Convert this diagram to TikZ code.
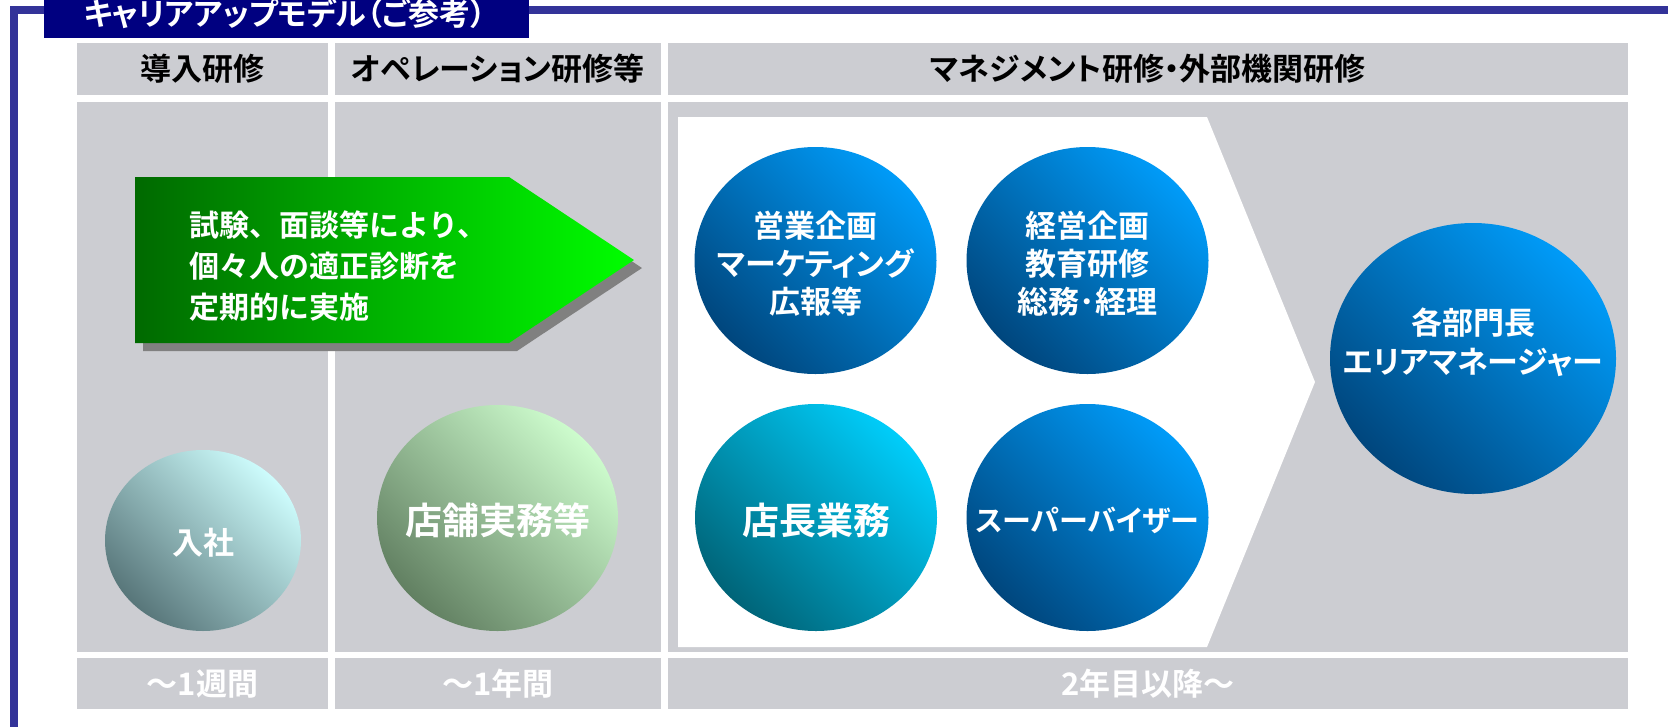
\documentclass[tikz,border=0pt]{standalone}
\usepackage{fontspec}
\setmainfont{Noto Sans CJK JP}[BoldFont={Noto Sans CJK JP Bold},RawFeature=+palt]
\newfontfamily\jpfull{Noto Sans CJK JP}[BoldFont={Noto Sans CJK JP Bold}]
\usetikzlibrary{shapes.geometric}
\definecolor{framecol}{RGB}{51,51,153}
\definecolor{titlecol}{RGB}{0,0,128}
\definecolor{cellgray}{RGB}{204,205,210}
\definecolor{shadowgray}{RGB}{128,128,128}
\definecolor{arrowD}{RGB}{0,105,0}
\definecolor{arrowL}{RGB}{0,255,0}
\definecolor{blueD}{RGB}{0,70,125}
\definecolor{blueL}{RGB}{0,155,248}
\definecolor{cyanD}{RGB}{0,100,120}
\definecolor{cyanL}{RGB}{0,205,250}
\definecolor{tealD}{RGB}{88,118,122}
\definecolor{tealL}{RGB}{205,252,252}
\definecolor{greenD}{RGB}{98,128,98}
\definecolor{greenL}{RGB}{205,252,205}
\newcommand\jfs[2]{\fontsize{#1}{#2}\selectfont}
\begin{document}
\begin{tikzpicture}[x=1pt,y=-1pt,
  hdr/.style={text=black,font=\bfseries\jfs{31}{36}},
  ftr/.style={text=white,font=\bfseries\jfs{31}{36}},
  ball/.style={ellipse,inner sep=0pt,minimum width=242pt,minimum height=227pt},
  ballshade/.style 2 args={left color=#1,right color=#2,shading angle=135},
  balltext/.style={text=white,align=center,font=\bfseries\jfs{31}{38}},
  bigtext/.style={text=white,align=center,font=\bfseries\jfs{37}{42}}]
\useasboundingbox (0,0) rectangle (1668,726);
\fill[white] (0,0) rectangle (1668,726);
% frame
\draw[framecol,line width=7.5pt] (13.75,740) -- (13.75,10) -- (1690,10);
% title
\fill[titlecol] (44,-2) rectangle (529,38);
\node[text=white,font=\bfseries\jfs{31}{34}] (title) at (285,14) {キャリアアップモデル（ご参考）};
% header row
\fill[cellgray] (77,43) rectangle (328,95);
\fill[cellgray] (335,43) rectangle (661,95);
\fill[cellgray] (668,43) rectangle (1628,95);
\node[hdr] (h1) at (202.5,69) {導入研修};
\node[hdr] (h2) at (498,69) {オペレーション研修等};
\node[hdr] (h3) at (1148,69) {マネジメント研修・外部機関研修};
% body row
\fill[cellgray] (77,102) rectangle (328,652);
\fill[cellgray] (335,102) rectangle (661,652);
\fill[cellgray] (668,102) rectangle (1628,652);
% footer row
\fill[cellgray] (77,658) rectangle (328,709);
\fill[cellgray] (335,658) rectangle (661,709);
\fill[cellgray] (668,658) rectangle (1628,709);
\node[ftr] (f1) at (202.5,684) {～1週間};
\node[ftr] (f2) at (498,684) {～1年間};
\node[ftr] (f3) at (1148,684) {2年目以降～};
% white pentagon
\fill[white] (678,117) -- (1207,117) -- (1315,382) -- (1207,647) -- (678,647) -- cycle;
% green arrow
\fill[shadowgray] (143,185) -- (517,185) -- (642,268) -- (517,351) -- (143,351) -- cycle;
\shade[left color=arrowD,right color=arrowL] (135,177) -- (509,177) -- (634,260) -- (509,343) -- (135,343) -- cycle;
\node[anchor=west,align=left,text=white,font=\jpfull\bfseries\jfs{30}{41}] (exam) at (186,266) {試験、面談等により、\\個々人の適正診断を\\定期的に実施};
% circles
\node[ball,ballshade={tealD}{tealL},minimum width=196pt,minimum height=181pt] (nyusha) at (203,540.5) {};
\node[balltext] (nyushatext) at (203,543) {入社};
\node[ball,ballshade={greenD}{greenL},minimum width=241pt,minimum height=226pt] (tenpo) at (497.5,518) {};
\node[bigtext] (tenpotext) at (497.5,520) {店舗実務等};
\node[ball,ballshade={blueD}{blueL}] (eigyo) at (815.5,260.5) {};
\node[balltext] (eigyotext) at (815.5,264) {営業企画\\マーケティング\\広報等};
\node[ball,ballshade={blueD}{blueL}] (keiei) at (1087.5,260.5) {};
\node[balltext] (keieitext) at (1087.5,264) {経営企画\\教育研修\\総務･経理};
\node[ball,ballshade={cyanD}{cyanL}] (tencho) at (816,517.5) {};
\node[bigtext] (tenchotext) at (816,520) {店長業務};
\node[ball,ballshade={blueD}{blueL}] (sv) at (1087.5,517.5) {};
\node[balltext,font=\bfseries\jfs{29}{36}] (svtext) at (1087.5,520) {スーパーバイザー};
\node[ball,ballshade={blueD}{blueL},minimum width=286pt,minimum height=271pt] (bumon) at (1473,358.5) {};
\node[balltext,font=\bfseries\jfs{31}{39}] (bumontext) at (1473,342) {各部門長\\エリアマネージャー};
\end{tikzpicture}
\end{document}
